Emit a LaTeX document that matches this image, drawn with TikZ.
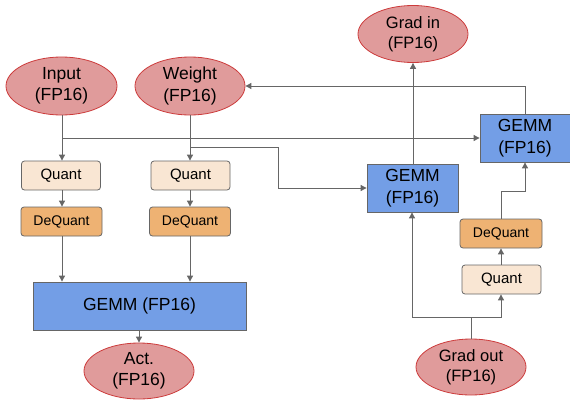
\documentclass[tikz,border=0pt]{standalone}
\usepackage{fontspec}
\setmainfont{Liberation Sans}
\usetikzlibrary{shapes.geometric,arrows.meta}
\definecolor{ellfill}{HTML}{E09B9B}
\definecolor{ellline}{HTML}{CC3B3B}
\definecolor{gemmfill}{HTML}{739EE6}
\definecolor{quantfill}{HTML}{F9E6D3}
\definecolor{dqfill}{HTML}{EEB273}
\definecolor{edge}{HTML}{666666}
\begin{document}
\begin{tikzpicture}[x=1pt,y=-1pt,
  ell/.style={ellipse,draw=ellline,fill=ellfill,line width=0.8pt,inner sep=0pt,align=center,font=\fontsize{17.5}{21.5}\selectfont},
  gemm/.style={rectangle,draw=edge,fill=gemmfill,line width=0.8pt,inner sep=0pt,align=center,font=\fontsize{17.5}{21.5}\selectfont},
  qbox/.style={rectangle,rounded corners=3pt,draw=edge,fill=quantfill,line width=0.8pt,inner sep=0pt,minimum width=79pt,minimum height=29pt,font=\fontsize{15}{17}\selectfont},
  dqbox/.style={rectangle,rounded corners=3pt,draw=edge,fill=dqfill,line width=0.8pt,inner sep=0pt,minimum width=81pt,minimum height=29pt,font=\fontsize{14}{16}\selectfont},
  conn/.style={draw=edge,line width=0.9pt},
  arr/.style={conn,-{Triangle[length=6pt,width=6pt]}}]
\useasboundingbox (0,0) rectangle (570,399);
% ellipses
\node[ell,minimum width=111pt,minimum height=58pt] (input) at (61.5,86) {Input\\(FP16)};
\node[ell,minimum width=110pt,minimum height=58pt] (weight) at (190,86) {Weight\\(FP16)};
\node[ell,minimum width=110pt,minimum height=57pt,font=\fontsize{16.5}{19.5}\selectfont] (gradin) at (413,34) {Grad in\\(FP16)};
\node[ell,minimum width=110pt,minimum height=56pt] (act) at (139,371) {Act.\\(FP16)};
\node[ell,minimum width=110pt,minimum height=56pt,font=\fontsize{16.5}{19.5}\selectfont] (gradout) at (471,367) {Grad out\\(FP16)};
% boxes
\node[qbox] (q1) at (61,175.5) {Quant};
\node[dqbox] (dq1) at (61.5,221.5) {DeQuant};
\node[qbox] (q2) at (190.5,175.5) {Quant};
\node[dqbox] (dq2) at (190,221.5) {DeQuant};
\node[qbox] (q3) at (501.5,279.5) {Quant};
\node[dqbox,minimum width=82pt] (dq3) at (501,233.5) {DeQuant};
\node[gemm,minimum width=213pt,minimum height=48pt] (gemmf) at (139.5,306) {GEMM (FP16)};
\node[gemm,minimum width=91pt,minimum height=48pt] (gemmm) at (412.5,188) {GEMM\\(FP16)};
\node[gemm,minimum width=90pt,minimum height=48pt] (gemmr) at (525,138) {GEMM\\(FP16)};
% coordinates
\coordinate (j1) at (62,138);
\coordinate (j2) at (190,147);
\coordinate (j3) at (471,317);
% forward
\draw[arr] (input.south -| j1) -- (q1.north -| j1);
\draw[arr] (weight.south -| j2) -- (q2.north -| j2);
\draw[arr] (q1.south -| j1) -- (dq1.north -| j1);
\draw[arr] (q2.south -| j2) -- (dq2.north -| j2);
\draw[arr] (dq1.south -| j1) -- (gemmf.north -| j1);
\draw[arr] (dq2.south -| j2) -- (gemmf.north -| j2);
\draw[arr] (gemmf.south -| act.north) -- (act.north);
% input to right gemm
\draw[arr] (j1) -- (gemmr.west |- j1);
% weight to mid gemm
\draw[arr] (j2) -- (278,147) -- (278,188) -- (gemmm.west);
% mid gemm to grad in
\draw[arr] (gemmm.north -| gradin.south) -- (gradin.south);
% right gemm to weight
\draw[arr] (gemmr.north) -- (gemmr.north |- weight.east) -- (weight.east);
% grad out
\draw[conn] (gradout.north -| j3) -- (j3);
\draw[arr] (j3) -- (412,317) -- (gemmm.south -| 412,0);
\draw[arr] (j3) -- (501,317) -- (q3.south -| 501,0);
\draw[arr] (q3.north -| 501,0) -- (dq3.south -| 501,0);
\draw[arr] (dq3.north -| 501,0) -- (501,191) -- (gemmr.south |- 0,191) -- (gemmr.south);
\end{tikzpicture}
\end{document}
